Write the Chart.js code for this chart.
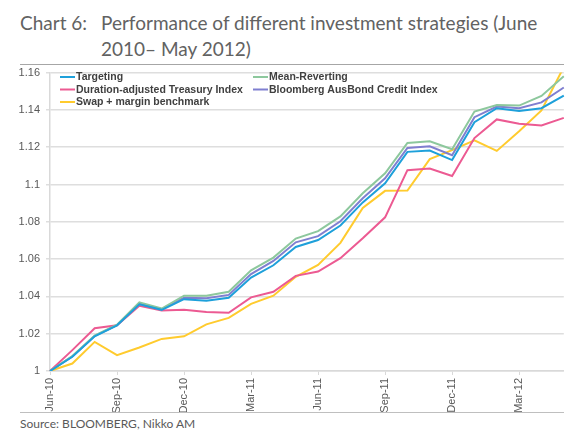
<!DOCTYPE html>
<html>
<head>
<meta charset="utf-8">
<script src="https://cdn.jsdelivr.net/npm/chart.js@4.4.0/dist/chart.umd.min.js"></script>
<style>
  body { margin: 0; width: 580px; height: 440px; background: #fff; position: relative; overflow: hidden; }
  .t { position: absolute; font-family: Lato, "Open Sans", sans-serif; font-size: 19px; color: #626262; white-space: nowrap; line-height: 26px; }
  .rule { position: absolute; left: 20px; width: 544px; height: 1px; background: #a6a6a6; }
  #src { position: absolute; left: 20px; top: 416px; font-family: Lato, sans-serif; font-size: 12px; color: #595959; }
  #wrap { position: absolute; left: 0; top: 60px; width: 580px; height: 352px; }
</style>
</head>
<body>
<div class="t" style="left:20px; top:10px;">Chart 6:</div>
<div class="t" style="left:101px; top:10px;">Performance of different investment strategies (June</div>
<div class="t" style="left:101px; top:36px;">2010– May 2012)</div>
<div class="rule" style="top:64px;"></div>
<div id="wrap"><canvas id="c"></canvas></div>
<div class="rule" style="top:412px; background:#bfbfbf;"></div>
<div id="src">Source: BLOOMBERG, Nikko AM</div>
<script>
// monthly, Jun-10 .. May-12
const months = ['Jun-10','Jul-10','Aug-10','Sep-10','Oct-10','Nov-10','Dec-10','Jan-11','Feb-11','Mar-11','Apr-11','May-11',
                'Jun-11','Jul-11','Aug-11','Sep-11','Oct-11','Nov-11','Dec-11','Jan-12','Feb-12','Mar-12','Apr-12','May-12'];

const targeting = [1.000, 1.0076, 1.0186, 1.0245, 1.0358, 1.0328, 1.0385, 1.0377, 1.0393, 1.0501, 1.0567, 1.0665,
                   1.0702, 1.0780, 1.0904, 1.1006, 1.1175, 1.1182, 1.1131, 1.1334, 1.1409, 1.1394, 1.1409, 1.1476];
const meanReverting = [1.000, 1.0080, 1.0190, 1.0248, 1.0368, 1.0335, 1.0404, 1.0404, 1.0425, 1.0540, 1.0608, 1.0710,
                       1.0750, 1.0829, 1.0953, 1.1060, 1.1223, 1.1232, 1.1189, 1.1391, 1.1426, 1.1423, 1.1475, 1.1580];
const treasury = [1.000, 1.0112, 1.0229, 1.0245, 1.0350, 1.0324, 1.0328, 1.0317, 1.0312, 1.0395, 1.0425, 1.0510,
                  1.0533, 1.0605, 1.0712, 1.0824, 1.1077, 1.1086, 1.1046, 1.1249, 1.1349, 1.1326, 1.1317, 1.1357];
const ausBond = [1.000, 1.0078, 1.0188, 1.0246, 1.0363, 1.0331, 1.0393, 1.0390, 1.0408, 1.0520, 1.0590, 1.0690,
                 1.0723, 1.0803, 1.0926, 1.1033, 1.1196, 1.1205, 1.1157, 1.1361, 1.1418, 1.1409, 1.1440, 1.1520];
const swapMargin = [1.000, 1.0040, 1.0156, 1.0085, 1.0126, 1.0172, 1.0186, 1.0250, 1.0285, 1.0360, 1.0404, 1.0505,
                    1.0569, 1.0687, 1.0874, 1.0966, 1.0968, 1.1136, 1.1184, 1.1237, 1.1180, 1.1285, 1.1397, 1.1630];

const yTicks = [1, 1.02, 1.04, 1.06, 1.08, 1.1, 1.12, 1.14, 1.16];

function mk(label, data, color) {
  return { label: label, data: data, borderColor: color, backgroundColor: color,
           borderWidth: 2, pointRadius: 0, tension: 0, fill: false };
}

const datasets = [
  mk('Targeting', targeting, '#1ea0da'),
  mk('Mean-Reverting', meanReverting, '#8dc89d'),
  mk('Duration-adjusted Treasury Index', treasury, '#ec5a92'),
  mk('Bloomberg AusBond Credit Index', ausBond, '#7f7fd0'),
  mk('Swap + margin benchmark', swapMargin, '#ffcb2e')
];

// legend drawn inside the plot, two columns
const insideLegend = {
  id: 'insideLegend',
  afterDraw(chart) {
    const ctx = chart.ctx;
    const pos = [[60, 77], [253, 77], [60, 89.5], [253, 89.5], [60, 102]];
    ctx.save();
    ctx.font = 'bold 10.5px "Liberation Sans", Arial, sans-serif';
    ctx.textBaseline = 'middle';
    chart.data.datasets.forEach((ds, i) => {
      const x = pos[i][0], y = pos[i][1] - 60;
      ctx.strokeStyle = ds.borderColor;
      ctx.lineWidth = 2;
      ctx.beginPath(); ctx.moveTo(x, y); ctx.lineTo(x + 15, y); ctx.stroke();
      ctx.fillStyle = '#404040';
      ctx.fillText(ds.label, x + 16, y + 0.5);
    });
    ctx.restore();
  }
};

new Chart(document.getElementById('c'), {
  type: 'line',
  data: { labels: months, datasets: datasets },
  plugins: [insideLegend],
  options: {
    responsive: true,
    maintainAspectRatio: false,
    animation: false,
    layout: { padding: { top: 10, right: 16, left: 0, bottom: 0 } },
    plugins: { legend: { display: false }, tooltip: { enabled: false } },
    scales: {
      x: {
        afterFit: s => { s.height = 41; },
        border: { color: '#d9d9d9', width: 1.5 },
        grid: {
          drawOnChartArea: false, drawTicks: true, tickLength: 4,
          color: c => (c.index % 3 === 0 ? '#d9d9d9' : 'rgba(0,0,0,0)')
        },
        ticks: {
          autoSkip: false, minRotation: 90, maxRotation: 90, padding: 3,
          color: '#595959', font: { family: '"Liberation Sans", Arial, sans-serif', size: 11 },
          callback: function (v, i) { return i % 3 === 0 ? months[i] : ''; }
        }
      },
      y: {
        min: 1, max: 1.16,
        afterFit: s => { s.width = 50; },
        afterBuildTicks: s => { s.ticks = yTicks.map(v => ({ value: v })); },
        border: { color: '#d9d9d9', width: 1.5 },
        grid: { color: '#dedede', lineWidth: 1.5, tickLength: 4 },
        ticks: {
          padding: 6, color: '#595959',
          font: { family: '"Liberation Sans", Arial, sans-serif', size: 11 },
          callback: v => String(parseFloat(v.toFixed(2)))
        }
      }
    }
  }
});
</script>
</body>
</html>
